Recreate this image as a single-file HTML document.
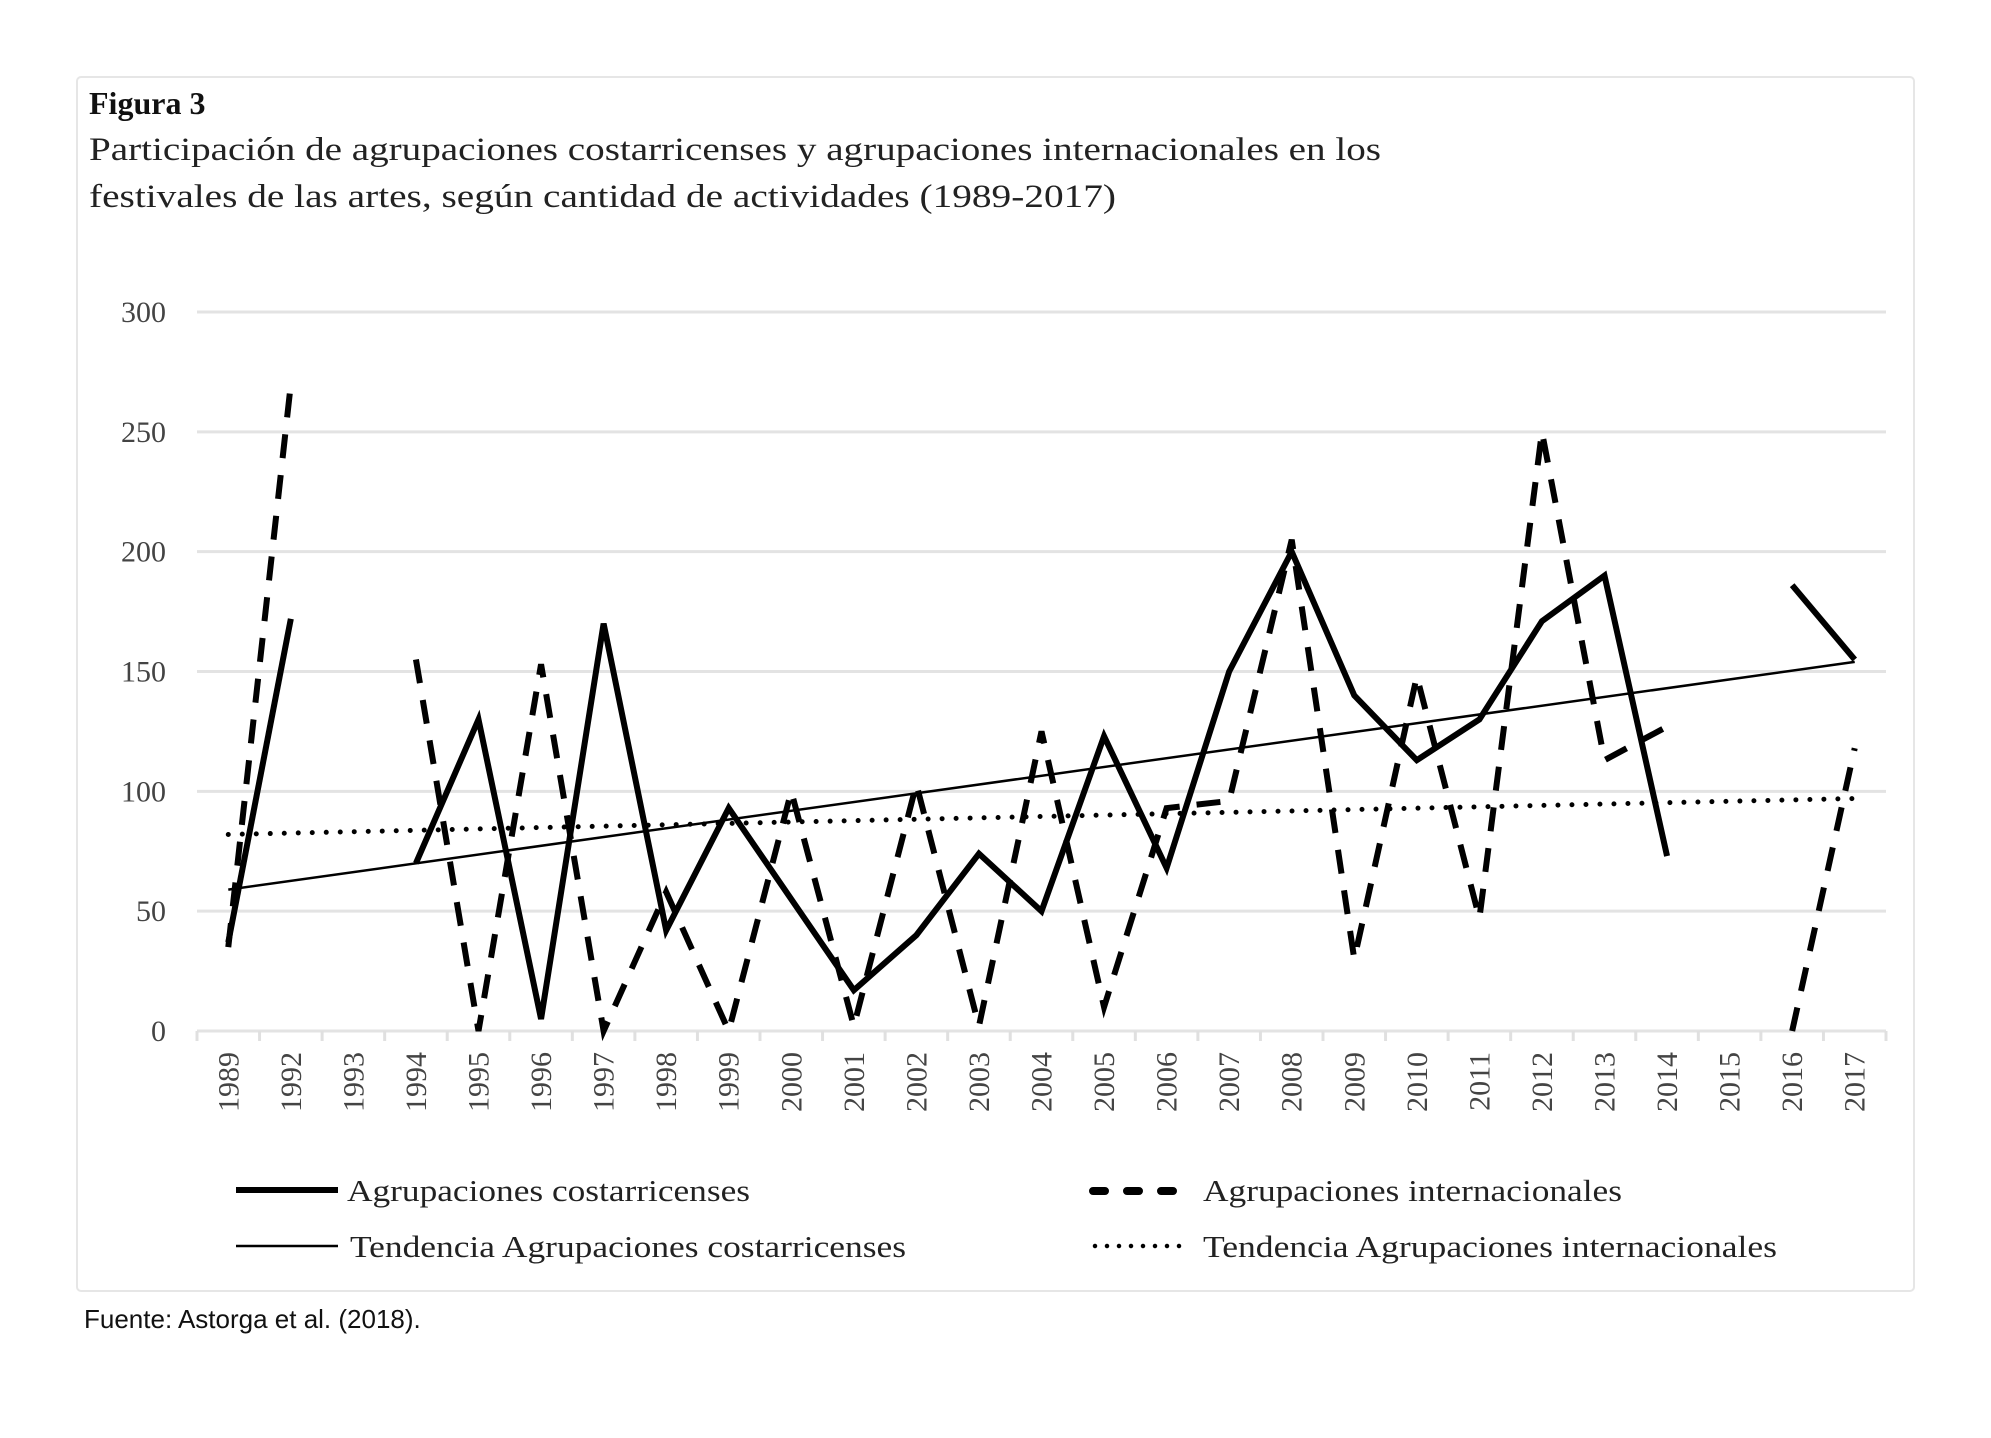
<!DOCTYPE html>
<html><head><meta charset="utf-8"><style>
html,body{margin:0;padding:0;background:#fff;width:1991px;height:1438px;overflow:hidden}
svg{display:block}
</style></head><body>
<svg id="chart" width="1991" height="1438" xmlns="http://www.w3.org/2000/svg">
<rect x="77" y="77" width="1837" height="1214" fill="#fff" stroke="#e6e6e6" stroke-width="2" rx="4"/>
<text x="89" y="114" font-family="Liberation Serif, serif" font-weight="bold" font-size="32" fill="#111">Figura 3</text>
<text x="89" y="160" font-family="Liberation Serif, serif" font-size="33" fill="#222" textLength="1292" lengthAdjust="spacingAndGlyphs">Participación de agrupaciones costarricenses y agrupaciones internacionales en los</text>
<text x="89" y="207" font-family="Liberation Serif, serif" font-size="33" fill="#222" textLength="1027" lengthAdjust="spacingAndGlyphs">festivales de las artes, según cantidad de actividades (1989-2017)</text>
<g id="grid"></g><g id="axes"></g><g id="series"></g>
<g>
<line x1="236" y1="1190" x2="338" y2="1190" stroke="#000" stroke-width="6"/>
<text x="347" y="1201" font-family="Liberation Serif, serif" font-size="31" fill="#222" textLength="403" lengthAdjust="spacingAndGlyphs">Agrupaciones costarricenses</text>
<line x1="236" y1="1246" x2="338" y2="1246" stroke="#000" stroke-width="2.5"/>
<text x="350" y="1257" font-family="Liberation Serif, serif" font-size="31" fill="#222" textLength="556" lengthAdjust="spacingAndGlyphs">Tendencia Agrupaciones costarricenses</text>
<line x1="1093" y1="1191" x2="1174" y2="1191" stroke="#000" stroke-width="8" stroke-linecap="round" stroke-dasharray="12 22"/>
<text x="1203" y="1201" font-family="Liberation Serif, serif" font-size="31" fill="#222" textLength="419" lengthAdjust="spacingAndGlyphs">Agrupaciones internacionales</text>
<line x1="1095" y1="1246" x2="1180" y2="1246" stroke="#000" stroke-width="4.5" stroke-linecap="round" stroke-dasharray="0 12"/>
<text x="1203" y="1257" font-family="Liberation Serif, serif" font-size="31" fill="#222" textLength="574" lengthAdjust="spacingAndGlyphs">Tendencia Agrupaciones internacionales</text>
</g>
<text x="84" y="1328" font-family="Liberation Sans, sans-serif" font-size="26" fill="#111">Fuente: Astorga et al. (2018).</text>
</svg>
<script>
const categories = ["1989","1992","1993","1994","1995","1996","1997","1998","1999","2000","2001","2002","2003","2004","2005","2006","2007","2008","2009","2010","2011","2012","2013","2014","2015","2016","2017"];
const costarricenses = [37,172,null,70,130,5,170,42,93,55,17,40,74,50,123,68,150,200,140,113,130,171,190,73,null,186,155];
const internacionales = [35,270,null,155,0,153,0,58,0,100,2,103,2,125,10,93,96,205,30,148,47,250,113,127,null,0,118];
const trendCostarricenses = [59,154];
const trendInternacionales = [82,97];
const yTicks = [0,50,100,150,200,250,300];

const NS="http://www.w3.org/2000/svg";
const X0=197, X1=1886, Y0=1031, Ytop=312, YMAX=300;
const step=(X1-X0)/categories.length;
function xPos(i){return X0+step*(i+0.5);}
function yPos(v){return Y0-(v/YMAX)*(Y0-Ytop);}
function mk(tag,attrs,parent){const e=document.createElementNS(NS,tag);for(const k in attrs)e.setAttribute(k,attrs[k]);parent.appendChild(e);return e;}
const grid=document.getElementById('grid'), axes=document.getElementById('axes'), series=document.getElementById('series');

yTicks.forEach(t=>{
  const g=mk('line',{x1:X0,x2:X1,y1:yPos(t),y2:yPos(t),stroke:'#e3e3e3','stroke-width':3},grid);
  
  
  const l=mk('text',{x:166,y:yPos(t)+10,'text-anchor':'end','font-family':'Liberation Serif, serif','font-size':30,fill:'#444'},axes);
  l.textContent=t;
  
  
});
for(let i=0;i<=categories.length;i++){
  const tk=mk('line',{x1:X0+step*i,x2:X0+step*i,y1:Y0,y2:Y0+10,stroke:'#e0e0e0','stroke-width':3},axes);
  
  
}
categories.forEach((c,i)=>{
  const x=xPos(i)+10, y=1052;
  const t=mk('text',{x:x,y:y,'text-anchor':'end','font-family':'Liberation Serif, serif','font-size':30,fill:'#444',transform:`rotate(-90 ${x} ${y})`},axes);
  t.textContent=c;
  
  
});

function segs(arr){const out=[];let cur=[];arr.forEach((v,i)=>{if(v===null){if(cur.length)out.push(cur);cur=[];}else cur.push([xPos(i),yPos(v)]);});if(cur.length)out.push(cur);return out;}
const n=categories.length-1;
const tc=mk('line',{x1:xPos(0),y1:yPos(trendCostarricenses[0]),x2:xPos(n),y2:yPos(trendCostarricenses[1]),stroke:'#000','stroke-width':2.5},series);


const ti=mk('line',{x1:xPos(0),y1:yPos(trendInternacionales[0]),x2:xPos(n),y2:yPos(trendInternacionales[1]),stroke:'#000','stroke-width':5,'stroke-linecap':'round','stroke-dasharray':'0 14'},series);


segs(internacionales).forEach(s=>{
  const p=mk('polyline',{points:s.map(p=>p.join(',')).join(' '),fill:'none',stroke:'#000','stroke-width':6,'stroke-dasharray':'24 17'},series);
  
  
});
segs(costarricenses).forEach(s=>{
  const p=mk('polyline',{points:s.map(p=>p.join(',')).join(' '),fill:'none',stroke:'#000','stroke-width':6,'stroke-linejoin':'miter'},series);
  
  
});
</script>
</body></html>
